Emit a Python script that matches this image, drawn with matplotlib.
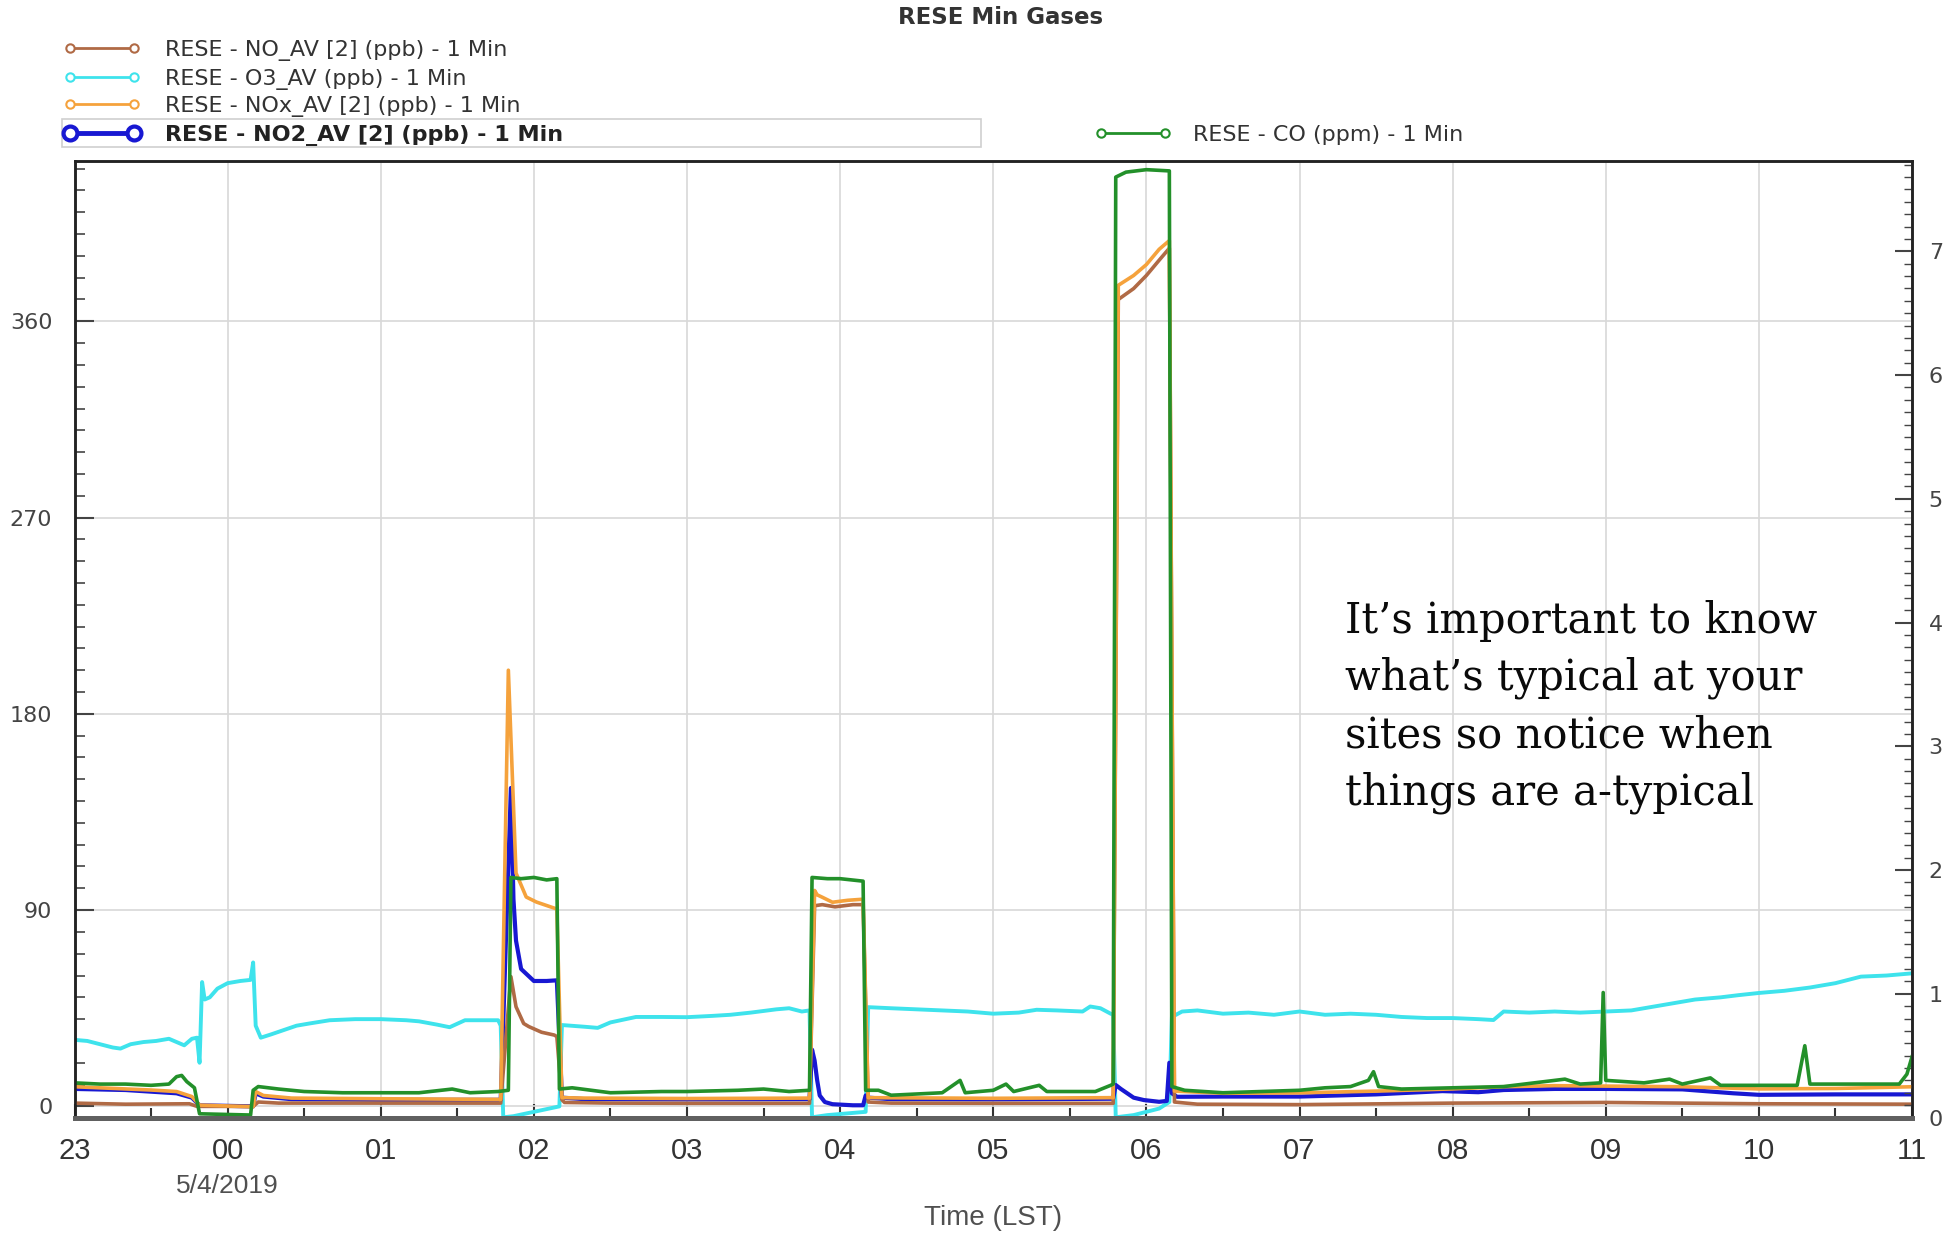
import matplotlib
matplotlib.use("Agg")
import matplotlib.pyplot as plt
from matplotlib.lines import Line2D
from matplotlib.patches import Rectangle
from matplotlib.ticker import MultipleLocator
from matplotlib import font_manager

# ---------------- data (1-min gas data, 23:00 -> 11:00 LST) ----------------
hour_labels = ["23", "00", "01", "02", "03", "04", "05", "06", "07", "08", "09", "10", "11"]

o3_t = ["23:00", "23:05", "23:10", "23:15", "23:18", "23:22", "23:27", "23:32", "23:37", "23:40",
        "23:43", "23:46", "23:48", "23:49", "23:50", "23:51", "23:53", "23:56", "00:00", "00:05",
        "00:09", "00:10", "00:11", "00:13", "00:17", "00:22", "00:27", "00:32", "00:40", "00:50",
        "01:00", "01:10", "01:15", "01:22", "01:27", "01:33", "01:40", "01:46", "01:47", "01:48",
        "01:52", "02:00", "02:08", "02:10", "02:11", "02:20", "02:25", "02:30", "02:40", "02:50",
        "03:00", "03:10", "03:17", "03:25", "03:35", "03:40", "03:45", "03:48", "03:49", "03:55",
        "04:05", "04:10", "04:11", "04:20", "04:30", "04:40", "04:50", "05:00", "05:10", "05:17",
        "05:25", "05:35", "05:38", "05:42", "05:46", "05:47", "05:48", "05:55", "06:05", "06:09",
        "06:10", "06:14", "06:20", "06:30", "06:40", "06:50", "07:00", "07:10", "07:20", "07:30",
        "07:40", "07:50", "08:00", "08:10", "08:16", "08:20", "08:30", "08:40", "08:50", "09:00",
        "09:10", "09:15", "09:25", "09:35", "09:45", "09:52", "10:00", "10:10", "10:20", "10:30",
        "10:40", "10:50", "11:00"]
o3_v = [30.5, 30, 28.5, 27, 26.5, 28.5, 29.5, 30, 31, 29.5,
        28, 31, 31.5, 20, 57, 49, 50, 54, 56.5, 57.5,
        58, 66, 37, 31.5, 33, 35, 37, 38, 39.5, 40,
        40, 39.5, 39, 37.5, 36.3, 39.5, 39.5, 39.5, 37, -5,
        -4.5, -2.5, -0.5, 0, 37.3, 36.5, 36, 38.5, 41, 41,
        40.9, 41.5, 42, 43, 44.5, 45, 43.5, 44, -5, -4,
        -3, -2.5, 45.5, 45, 44.5, 44, 43.5, 42.5, 43, 44.3,
        44, 43.5, 45.8, 45, 42.5, 42, -5, -4, -1, 2,
        41, 43.5, 44, 42.5, 43, 42, 43.5, 42, 42.5, 42,
        41, 40.5, 40.5, 40, 39.6, 43.5, 43, 43.5, 43, 43.5,
        44, 45, 47, 49, 50, 51, 52, 53, 54.5, 56.5,
        59.5, 60, 61]

no_t = ["23:00", "23:20", "23:45", "23:48", "00:10", "00:12", "00:20", "01:00", "01:47", "01:51",
        "01:53", "01:56", "01:58", "02:03", "02:08", "02:09", "02:11", "02:12", "02:30", "03:00",
        "03:48", "03:50", "03:53", "03:58", "04:05", "04:09", "04:11", "04:20", "05:00", "05:47",
        "05:49", "05:55", "06:00", "06:05", "06:09", "06:11", "06:20", "07:00", "08:00", "09:00",
        "10:00", "11:00"]
no_v = [1.5, 1.0, 1.2, 0, 0, 2, 1.5, 1.5, 1.5, 59.5,
        45.7, 38, 36.6, 34, 32.7, 32, 3, 1.8, 1.5, 1.4,
        1.4, 92, 92.5, 91.5, 92.5, 92.5, 2, 1.5, 1.4, 1.4,
        370, 375, 381, 388, 393.5, 2, 1, 0.8, 1.5, 1.8,
        1.2, 1.0]

nox_t = ["23:00", "23:10", "23:20", "23:30", "23:40", "23:46", "23:49", "00:10", "00:11", "00:14",
         "00:25", "01:00", "01:47", "01:50", "01:53", "01:57", "02:01", "02:08", "02:09", "02:11",
         "02:20", "03:00", "03:48", "03:50", "03:51", "03:53", "03:57", "04:03", "04:09", "04:11",
         "05:00", "05:47", "05:49", "05:55", "06:00", "06:05", "06:09", "06:11", "06:30", "07:00",
         "07:30", "08:00", "08:20", "08:40", "09:00", "09:30", "10:00", "10:30", "11:00"]
nox_v = [9, 8.5, 8, 7.5, 6.8, 4.5, 0.6, -0.2, 6.8, 5,
         3.8, 3.5, 3.2, 200, 107, 96, 93.7, 90.9, 90.5, 4,
         3.8, 3.6, 3.8, 99, 97, 95.9, 93.6, 94.5, 95, 4,
         3.7, 4, 376.5, 381, 386, 393, 397, 7, 6, 6.2,
         7, 8, 9, 9.5, 9.3, 9, 8, 8.2, 9]

no2_t = ["23:00", "23:20", "23:40", "23:46", "23:49", "00:10", "00:11", "00:14", "00:25", "01:00",
         "01:47", "01:51", "01:52", "01:53", "01:55", "02:00", "02:05", "02:09", "02:11", "02:20",
         "03:00", "03:48", "03:49", "03:50", "03:51", "03:52", "03:54", "03:57", "04:05", "04:09",
         "04:10", "04:11", "04:20", "05:00", "05:47", "05:48", "05:50", "05:55", "05:59", "06:05",
         "06:08", "06:09", "06:10", "06:12", "06:30", "07:00", "07:30", "07:56", "08:10", "08:20",
         "08:40", "09:00", "09:30", "09:50", "10:00", "10:30", "11:00"]
no2_v = [8, 7.5, 6, 4, 0.5, 0, 6, 4.5, 3.3, 3,
         3, 146, 95, 76, 63, 57.5, 57.5, 57.8, 4, 3.3,
         3.2, 3.3, 26, 21, 12, 5, 2, 1, 0.5, 0.5,
         5, 4, 3.3, 3.2, 3.5, 9.8, 8, 4, 2.9, 2.1,
         2.5, 20, 6, 4.4, 4.5, 4.5, 5.5, 7, 6.5, 7.5,
         8, 8, 7.8, 6, 5.3, 5.5, 5.5]

co_t = ["23:00", "23:10", "23:20", "23:30", "23:37", "23:40", "23:42", "23:44", "23:47", "23:49",
        "00:09", "00:10", "00:12", "00:20", "00:30", "00:45", "01:00", "01:15", "01:28", "01:35",
        "01:46", "01:50", "01:51", "01:55", "02:00", "02:05", "02:09", "02:10", "02:15", "02:30",
        "02:50", "03:00", "03:20", "03:30", "03:40", "03:48", "03:49", "03:55", "04:00", "04:09",
        "04:10", "04:15", "04:20", "04:40", "04:47", "04:49", "05:00", "05:05", "05:08", "05:18",
        "05:21", "05:40", "05:46", "05:47", "05:48", "05:52", "06:00", "06:09", "06:10", "06:15",
        "06:30", "07:00", "07:10", "07:20", "07:27", "07:29", "07:31", "07:40", "08:00", "08:20",
        "08:44", "08:50", "08:58", "08:59", "09:00", "09:15", "09:25", "09:30", "09:41", "09:45",
        "10:00", "10:15", "10:18", "10:20", "10:40", "10:55", "10:58", "11:00"]
co_v = [0.28, 0.27, 0.27, 0.26, 0.27, 0.33, 0.34, 0.29, 0.24, 0.03,
        0.02, 0.22, 0.25, 0.23, 0.21, 0.2, 0.2, 0.2, 0.23, 0.2,
        0.21, 0.22, 1.94, 1.93, 1.94, 1.92, 1.93, 0.23, 0.24, 0.2,
        0.21, 0.21, 0.22, 0.23, 0.21, 0.22, 1.94, 1.93, 1.93, 1.91,
        0.22, 0.22, 0.18, 0.2, 0.3, 0.2, 0.22, 0.27, 0.21, 0.26,
        0.21, 0.21, 0.26, 0.27, 7.6, 7.64, 7.66, 7.65, 0.25, 0.22,
        0.2, 0.22, 0.24, 0.25, 0.3, 0.37, 0.25, 0.23, 0.24, 0.25,
        0.31, 0.27, 0.28, 1.01, 0.3, 0.28, 0.31, 0.27, 0.32, 0.26,
        0.26, 0.26, 0.58, 0.27, 0.27, 0.27, 0.35, 0.49]

series_names = ["RESE - NO_AV [2] (ppb) - 1 Min", "RESE - O3_AV (ppb) - 1 Min",
                "RESE - NOx_AV [2] (ppb) - 1 Min", "RESE - NO2_AV [2] (ppb) - 1 Min",
                "RESE - CO (ppm) - 1 Min"]
note_lines = ["It\u2019s important to know", "what\u2019s typical at your",
              "sites so notice when", "things are a-typical"]

# ---------------- helpers ----------------
def to_min(s):
    h, m = map(int, s.split(":"))
    return ((h - 23) % 24) * 60 + m

avail = {f.name for f in font_manager.fontManager.ttflist}
narrow = "Liberation Sans Narrow" if "Liberation Sans Narrow" in avail else "Liberation Sans"

C_NO, C_O3, C_NOX, C_NO2, C_CO = "#b06a45", "#3ee3ec", "#f5a23c", "#1818d2", "#23902a"
W, H = 1947, 1233

fig = plt.figure(figsize=(W / 100, H / 100), dpi=100)
fig.patch.set_facecolor("white")
ax = fig.add_axes([74.5 / W, 1 - 1117.5 / H, (1912 - 74.5) / W, (1117.5 - 161) / H])
ax2 = ax.twinx()

ax.plot([to_min(t) for t in o3_t], o3_v, color=C_O3, lw=2.8, zorder=2)
ax.plot([to_min(t) for t in no2_t], no2_v, color=C_NO2, lw=3.0, zorder=3)
ax.plot([to_min(t) for t in no_t], no_v, color=C_NO, lw=2.6, zorder=4)
ax.plot([to_min(t) for t in nox_t], nox_v, color=C_NOX, lw=2.6, zorder=5)
ax2.plot([to_min(t) for t in co_t], co_v, color=C_CO, lw=2.6)

ax.set_xlim(0, 720)
ax.set_ylim(-5.1, 433.5)
ax2.set_ylim(0, 7.73)

ax.xaxis.set_minor_locator(MultipleLocator(30))
ax.set_xticks(range(0, 721, 60))
ax.set_xticklabels(hour_labels, fontsize=21, family=narrow, color="#505050")
ax.yaxis.set_minor_locator(MultipleLocator(10))
ax2.yaxis.set_minor_locator(MultipleLocator(0.1))

ax.tick_params(axis="x", which="major", direction="in", length=10, width=1.5, pad=14, colors="#333333")
ax.tick_params(axis="x", which="minor", direction="in", length=7, width=1.5, colors="#333333")
ax.tick_params(axis="y", which="major", direction="in", length=14, width=1.5, pad=16,
               labelsize=16, labelcolor="#444444", colors="#444444")
ax.tick_params(axis="y", which="minor", direction="in", length=7, width=1.2, colors="#444444")
ax2.tick_params(axis="y", which="major", direction="in", length=12, width=1.5, pad=12,
                labelsize=16, labelcolor="#444444", colors="#444444")
ax2.tick_params(axis="y", which="minor", direction="in", length=6, width=1.0, colors="#444444")
ax.set_yticks([0, 90, 180, 270, 360])
ax2.set_yticks(range(0, 8))

ax.grid(True, which="major", color="#d8d8d8", lw=1.2)
ax.set_axisbelow(True)
for a in (ax, ax2):
    for side in ("left", "right", "top"):
        a.spines[side].set_color("#222222")
        a.spines[side].set_linewidth(1.8)
    a.spines["bottom"].set_color("#606060")
    a.spines["bottom"].set_linewidth(3.5)

# titles and labels
fig.text(1001 / W, 1 - 17 / H, "RESE Min Gases", ha="center", va="center",
         fontsize=16.5, fontweight="bold", color="#333333")
fig.text(227 / W, 1 - 1186 / H, "5/4/2019", ha="center", va="center",
         fontsize=19, family=narrow, color="#505050")
fig.text(993 / W, 1 - 1218 / H, "Time (LST)", ha="center", va="center",
         fontsize=20, family=narrow, color="#505050")

# legend (drawn at figure level)
def fx(px):
    return px / W

def fy(py):
    return 1 - py / H

leg_rows = [(48.4, C_NO), (77.0, C_O3), (104.3, C_NOX)]
for (ypix, col), name in zip(leg_rows, series_names[:3]):
    fig.add_artist(Line2D([fx(70), fx(134)], [fy(ypix), fy(ypix)], color=col, lw=2,
                          marker="o", ms=6, mfc="white", mec=col, mew=1.5))
    fig.text(fx(165), fy(ypix + 2.5), name, ha="left", va="center", fontsize=16, color="#333333")
fig.add_artist(Rectangle((fx(62), fy(146.5)), fx(981) - fx(62), fy(119) - fy(146.5),
                         fill=False, edgecolor="#cfcfcf", lw=1.2))
fig.add_artist(Line2D([fx(70), fx(134)], [fy(132.9), fy(132.9)], color=C_NO2, lw=3.5,
                      marker="o", ms=10, mfc="white", mec=C_NO2, mew=3))
fig.text(fx(165), fy(135.4), series_names[3], ha="left", va="center", fontsize=16,
         fontweight="bold", color="#222222")
fig.add_artist(Line2D([fx(1101), fx(1165)], [fy(132.9), fy(132.9)], color=C_CO, lw=2,
                      marker="o", ms=6, mfc="white", mec=C_CO, mew=1.5))
fig.text(fx(1193), fy(135.4), series_names[4], ha="left", va="center", fontsize=16,
         color="#333333")

# annotation, one text per line
for i, line in enumerate(note_lines):
    fig.text(fx(1345), fy(621 + 57.1 * i), line, ha="left", va="center",
             fontsize=30, family="DejaVu Serif", color="#0a0a0a")

fig.savefig("out.png", dpi=100, facecolor="white")
